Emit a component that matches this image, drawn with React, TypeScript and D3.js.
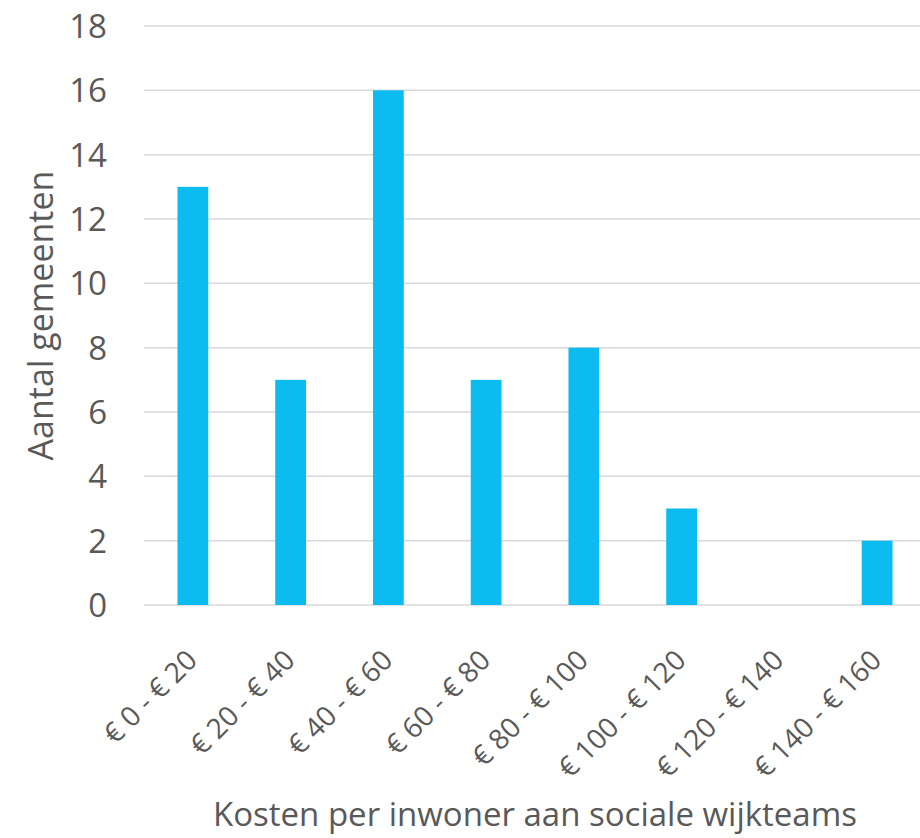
import { useEffect, useRef } from 'react'
import * as d3 from 'd3'

const categories = [
  '€ 0 - € 20',
  '€ 20 - € 40',
  '€ 40 - € 60',
  '€ 60 - € 80',
  '€ 80 - € 100',
  '€ 100 - € 120',
  '€ 120 - € 140',
  '€ 140 - € 160'
]
const counts = [13, 7, 16, 7, 8, 3, 0, 2]
const yTicks = [0, 2, 4, 6, 8, 10, 12, 14, 16, 18]

const svgWidth = 920
const svgHeight = 838
const plot = { left: 144, right: 926, top: 26, bottom: 605 }
const font = '"Open Sans", sans-serif'
const textColor = '#595959'

export default function App() {
  const svgRef = useRef(null)

  useEffect(() => {
    const svg = d3.select(svgRef.current)
    svg.selectAll('*').remove()

    const x = d3.scaleBand()
      .domain(categories)
      .range([plot.left, plot.right])
      .paddingInner(0.685)
      .paddingOuter(0.3425)

    const y = d3.scaleLinear()
      .domain([0, 18])
      .range([plot.bottom, plot.top])

    // grid
    svg.append('g')
      .selectAll('line')
      .data(yTicks)
      .enter().append('line')
        .attr('x1', plot.left)
        .attr('x2', svgWidth)
        .attr('y1', d => y(d))
        .attr('y2', d => y(d))
        .attr('stroke', '#d9d9d9')
        .attr('stroke-width', 1.5)

    // y tick labels
    svg.append('g')
      .selectAll('text')
      .data(yTicks)
      .enter().append('text')
        .attr('x', 107)
        .attr('y', d => y(d))
        .attr('dy', '0.36em')
        .attr('text-anchor', 'end')
        .attr('fill', textColor)
        .style('font', `33px ${font}`)
        .text(d => d)

    // bars
    svg.append('g')
      .selectAll('rect')
      .data(counts)
      .enter().append('rect')
        .attr('x', (d, i) => x(categories[i]))
        .attr('width', x.bandwidth())
        .attr('y', d => y(d))
        .attr('height', d => y(0) - y(d))
        .attr('fill', '#0cbbef')

    // x labels
    svg.append('g')
      .selectAll('text')
      .data(categories)
      .enter().append('text')
        .attr('transform', d => `translate(${x(d) + x.bandwidth() / 2 + 6}, 662) rotate(-45)`)
        .attr('text-anchor', 'end')
        .attr('fill', textColor)
        .style('font', `28px ${font}`)
        .text(d => d)

    // axis titles
    svg.append('text')
      .attr('x', (plot.left + plot.right) / 2)
      .attr('y', 826)
      .attr('text-anchor', 'middle')
      .attr('fill', textColor)
      .style('font', `33px ${font}`)
      .text('Kosten per inwoner aan sociale wijkteams')

    svg.append('text')
      .attr('transform', `translate(53, ${(plot.top + plot.bottom) / 2}) rotate(-90)`)
      .attr('text-anchor', 'middle')
      .attr('fill', textColor)
      .style('font', `34px ${font}`)
      .text('Aantal gemeenten')
  }, [])

  return (
    <svg
      ref={ svgRef }
      width={ svgWidth }
      height={ svgHeight }
      style={ { display: 'block', position: 'absolute', left: 0, top: 0, background: '#fff' } }
    />
  )
}
